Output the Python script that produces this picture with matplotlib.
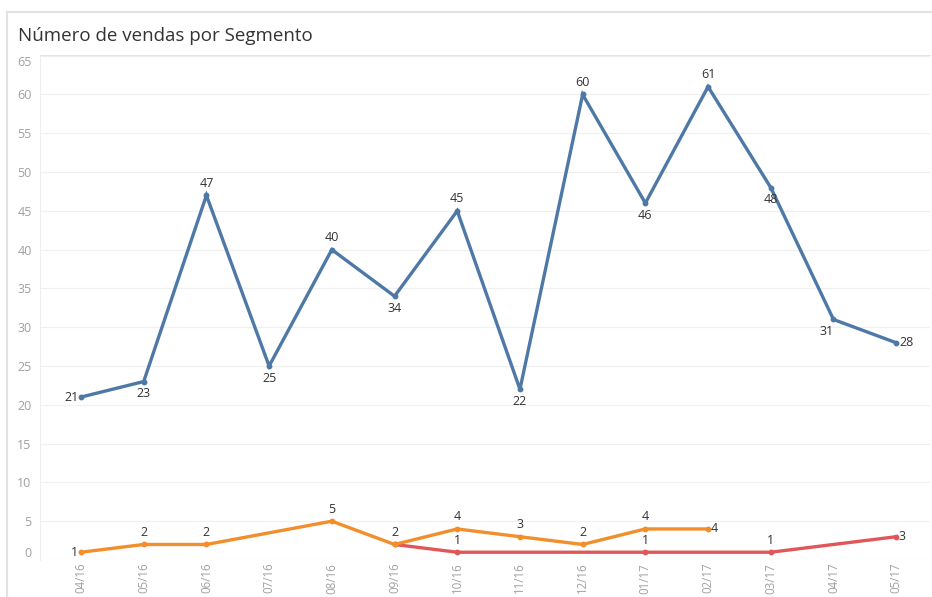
import matplotlib.pyplot as plt
from matplotlib.lines import Line2D

plt.rcParams['font.family'] = ['Open Sans', 'DejaVu Sans']

# dados
meses = ['04/16', '05/16', '06/16', '07/16', '08/16', '09/16', '10/16',
         '11/16', '12/16', '01/17', '02/17', '03/17', '04/17', '05/17']
seg_azul = [21, 23, 47, 25, 40, 34, 45, 22, 60, 46, 61, 48, 31, 28]
seg_laranja = [1, 2, 2, None, 5, 2, 4, 3, 2, 4, 4, None, None, None]
seg_vermelho = [None, None, None, None, None, 2, 1, None, None, 1, None, 1, None, 3]

# posicao de cada rotulo: 'a' acima, 'b' abaixo, 'e' esquerda, 'd' direita, '' sem rotulo
pos_azul = ['e', 'b', 'a', 'b', 'a', 'b', 'a', 'b', 'a', 'b', 'a', 'b', 'bl', 'd']
pos_laranja = ['e', 'a', 'a', '', 'a', 'a', 'a', 'a', 'a', 'a', 'd', '', '', '']
pos_vermelho = ['', '', '', '', '', '', 'a', '', '', 'a', '', 'a', '', 'd']

AZUL = '#4e79a7'
LARANJA = '#f28e2b'
VERMELHO = '#e15759'

OFFSETS = {
    'a': ((0, 4), 'center', 'bottom'),
    'b': ((0, -4), 'center', 'top'),
    'bl': ((-5, -4), 'center', 'top'),
    'e': ((-2, 0), 'right', 'center'),
    'd': ((2, 0), 'left', 'center'),
}

fig = plt.figure(figsize=(9.32, 5.97), dpi=100)
ax = fig.add_axes([0.0429, 0.062, 0.955, 0.846])


def desenha(valores, posicoes, cor):
    xs = [i for i, v in enumerate(valores) if v is not None]
    ys = [v for v in valores if v is not None]
    ax.plot(xs, ys, color=cor, lw=2.4, marker='o', ms=3.2, solid_joinstyle='miter', zorder=3)
    for i, v in enumerate(valores):
        if v is None or not posicoes[i]:
            continue
        off, ha, va = OFFSETS[posicoes[i]]
        ax.annotate(str(v), (i, v), xytext=off, textcoords='offset points',
                    ha=ha, va=va, fontsize=9, color='#333333', zorder=4)


desenha(seg_vermelho, pos_vermelho, VERMELHO)
desenha(seg_laranja, pos_laranja, LARANJA)
desenha(seg_azul, pos_azul, AZUL)

ax.set_xlim(-0.654, 13.54)
ax.set_ylim(0, 65.1)
ax.set_xticks(range(len(meses)))
ax.set_xticklabels(meses, rotation=90, fontsize=8.3, color='#a0a0a0')
ax.set_yticks(range(0, 70, 5))
ax.set_yticklabels([str(v) for v in range(0, 70, 5)], fontsize=9, color='#a0a0a0')
ax.tick_params(length=0, pad=6)
ax.tick_params(axis='x', pad=2)
# rotulos das pontas ficam dentro da area
ylabs = ax.get_yticklabels()
ylabs[0].set_va('bottom')
ylabs[-1].set_va('top')

ax.grid(axis='y', color='#f0f0f0', lw=0.9)
ax.set_axisbelow(True)
for lado in ['right', 'bottom']:
    ax.spines[lado].set_visible(False)
ax.spines['left'].set_color('#eeeeee')
ax.spines['top'].set_color('#e6e6e6')

# moldura do painel
fig.add_artist(Line2D([7 / 932, 1], [1 - 12 / 597] * 2, color='#e2e2e2', lw=1.5))
fig.add_artist(Line2D([7 / 932] * 2, [0, 1 - 12 / 597], color='#e2e2e2', lw=1.5))

fig.text(18 / 932, 1 - 36 / 597, 'Número de vendas por Segmento', fontsize=13.5,
         color='#333333', va='center', ha='left')

fig.savefig('out.png', dpi=100, facecolor='white')
